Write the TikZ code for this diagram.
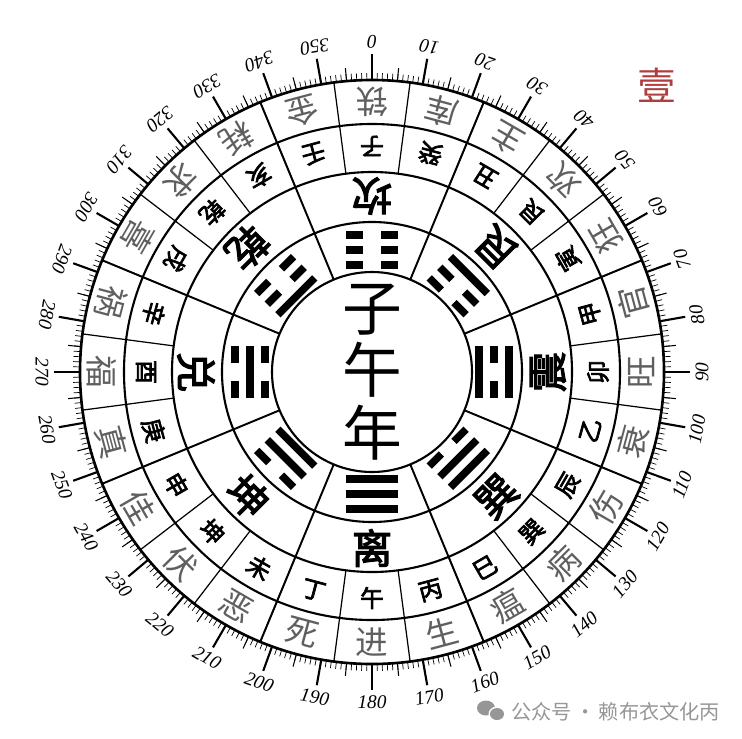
\documentclass[tikz,border=0pt]{standalone}
\usepackage{fontspec}
\setmainfont{Liberation Serif}
\newfontfamily\cjk{Noto Sans CJK SC}
\newfontfamily\cjkbold[FakeBold=3]{Noto Sans CJK SC}
\definecolor{ringgray}{RGB}{95,95,95}
\definecolor{sealred}{RGB}{176,62,62}
\definecolor{markgray}{RGB}{150,150,150}

\begin{document}
\begin{tikzpicture}[x=0.02cm, y=0.02cm,
	ring/.style={line width=1.2pt},
	spoke/.style={line width=1.1pt},
	thinspoke/.style={line width=0.7pt},
	yao/.style={line width=0.15cm},
	fortune/.style={text=ringgray, font=\cjk\fontsize{18.5}{18.5}\selectfont, inner sep=0pt},
	stem/.style={font=\cjkbold\fontsize{13.5}{13.5}\selectfont, inner sep=0pt},
	gua/.style={font=\cjkbold\fontsize{23}{23}\selectfont, inner sep=0pt},
	degree/.style={font=\itshape\fontsize{11}{11}\selectfont, inner sep=0pt}]

	\useasboundingbox (-372,-366) rectangle (370,372);

	% rings
	\draw[ring] (0,0) circle (100) (0,0) circle (150) (0,0) circle (200) (0,0) circle (248);
	\draw[line width=1.5pt] (0,0) circle (292);

	% spokes
	\foreach \a in {22.5,67.5,...,337.5}
		\draw[spoke] ({90-\a}:100) -- ({90-\a}:292);
	\foreach \a in {7.5,22.5,...,352.5}
		\draw[thinspoke] ({90-\a}:200) -- ({90-\a}:292);

	% degree scale
	\foreach \a in {0,...,359}
		\draw[line width=0.4pt] ({90-\a}:292) -- ({90-\a}:299);
	\foreach \a in {5,15,...,355}
		\draw[line width=0.6pt] ({90-\a}:292) -- ({90-\a}:305);
	\foreach \a in {0,10,...,350} {
		\draw[line width=1.2pt] ({90-\a}:292) -- ({90-\a}:318);
		\node[degree, rotate={180-\a}] (deg-\a) at ({90-\a}:330) {\a};
	}

	% trigrams, bottom line outside
	\foreach \a/\p/\q/\s in {0/0/0/0, 45/1/0/0, 90/1/0/1, 135/1/1/0, 180/1/1/1, 225/0/1/1, 270/0/1/0, 315/0/0/1} {
		\begin{scope}[rotate=-\a]
			\foreach \r/\y in {137/\p, 122/\q, 107/\s} {
				\ifnum\y=1
					\draw[yao] (-26,\r) -- (26,\r);
				\else
					\draw[yao] (-26,\r) -- (-9,\r) (9,\r) -- (26,\r);
				\fi
			}
		\end{scope}
	}

	% ring texts
	\foreach \c [count=\i from 0] in {坎,艮,震,巽,离,坤,兑,乾}
		\node[gua, rotate={180-45*\i}] (gua-\i) at ({90-45*\i}:176) {\c};
	\foreach \c [count=\i from 0] in {子,癸,丑,艮,寅,甲,卯,乙,辰,巽,巳,丙,午,丁,未,坤,申,庚,酉,辛,戌,乾,亥,壬}
		\node[stem, rotate={180-15*\i}] (stem-\i) at ({90-15*\i}:226) {\c};
	\foreach \c [count=\i from 0] in {铁,库,主,欢,狂,官,旺,衰,伤,病,瘟,生,进,死,恶,伏,佳,真,福,祸,喜,求,耗,金}
		\node[fortune, rotate={180-15*\i}] (fortune-\i) at ({90-15*\i}:270) {\c};

	% centre
	\node[font=\cjk\fontsize{34}{34}\selectfont] (year-1) at (0,62) {子};
	\node[font=\cjk\fontsize{34}{34}\selectfont] (year-2) at (0,2) {午};
	\node[font=\cjk\fontsize{34}{34}\selectfont] (year-3) at (0,-61) {年};

	\node[text=sealred, font=\cjk\fontsize{22}{22}\selectfont] (seal) at (285,287) {壹};

	% watermark
	\fill[markgray] (114,-336) ellipse (9 and 7.5);
	\fill[white] (125,-342) ellipse (8.5 and 7.5);
	\fill[markgray] (125,-342) ellipse (7 and 6);
	\node[text=markgray, font=\cjk\fontsize{11.5}{11.5}\selectfont, anchor=west, inner sep=0pt] (mark) at (139,-340) {公众号\,·\,赖布衣文化丙};
\end{tikzpicture}
\end{document}
